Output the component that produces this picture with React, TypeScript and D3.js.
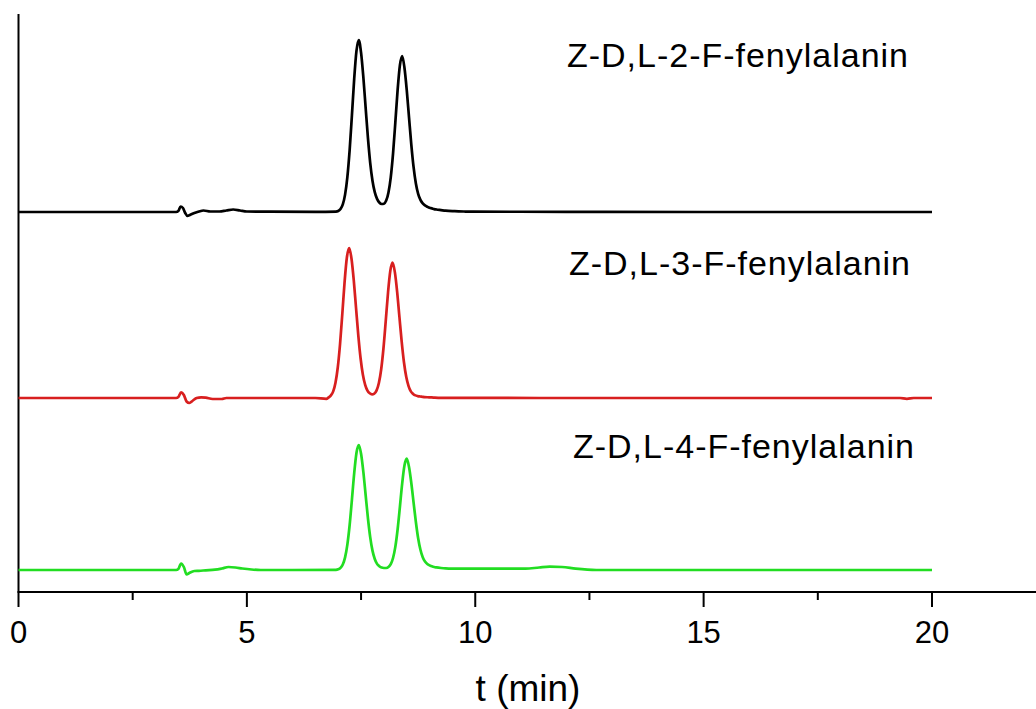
import React from 'react';
import * as d3 from 'd3';

const W = 1036;
const H = 709;

// axis ticks (minutes)
const majorTicks = [0, 5, 10, 15, 20];
const minorTicks = [2.5, 7.5, 12.5, 17.5];
const xAxisEnd = 22.28;
const xDomain: [number, number] = [0, 20];
const yDomain: [number, number] = [0, 578];

const seriesNames = ['Z-D,L-2-F-fenylalanin', 'Z-D,L-3-F-fenylalanin', 'Z-D,L-4-F-fenylalanin'];
const seriesOffsets = [380, 194, 22];
const seriesColors = ['#000000', '#d81f1f', '#22dd22'];

// [time (min), signal]
const blackTrace: [number, number][] = [
  [0, 0], [3.45, 0], [3.5, 1], [3.55, 5.5], [3.6, 4], [3.65, -1], [3.7, -4], [3.75, -3], [3.85, -1],
  [3.95, 0.5], [4.05, 1.5], [4.2, 0.5], [4.4, 0.5], [4.55, 1.5], [4.7, 2.5], [4.85, 1.5], [5.0, 0.5],
  [5.5, 0.3], [6.5, 0.2], [6.95, 0.4],
  [7.0, 1.0], [7.05, 2.9], [7.1, 7.6], [7.15, 17.4], [7.2, 34.9], [7.25, 61.9], [7.3, 96.8], [7.35, 133.3],
  [7.4, 161.3], [7.45, 172], [7.5, 159.3], [7.55, 134.8], [7.6, 104.4], [7.65, 74.3], [7.7, 49.2],
  [7.75, 31.3], [7.8, 19.8], [7.85, 13.1], [7.9, 9.5], [7.95, 8.0], [8.0, 8.3], [8.05, 11.4], [8.1, 19.6],
  [8.15, 34.7], [8.2, 58.4], [8.25, 89.4], [8.3, 121.8], [8.35, 146.6], [8.4, 156.0], [8.45, 144.3],
  [8.5, 122.1], [8.55, 94.7], [8.6, 67.4], [8.65, 44.8], [8.7, 28.6], [8.75, 18.2], [8.8, 12.1],
  [8.85, 8.6], [8.9, 6.6], [8.95, 5.3], [9.0, 4.2], [9.05, 3.6], [9.1, 2.9], [9.15, 2.5], [9.25, 1.9],
  [9.35, 1.3], [9.55, 0.8], [9.75, 0.5], [9.95, 0.3], [12, 0.2], [15, 0], [20, 0],
];

const redTrace: [number, number][] = [
  [0, 0], [3.45, 0], [3.5, 1], [3.56, 5.7], [3.62, 3], [3.68, -3.5], [3.74, -5], [3.82, -2.5], [3.9, 0],
  [4.0, 0.7], [4.1, 0.3], [4.25, -1], [4.45, -1], [4.55, 0], [5.0, 0], [6.5, 0], [6.74, -0.8],
  [6.79, 0.6], [6.84, 2.6], [6.89, 6.6], [6.94, 15.2], [6.99, 30.5], [7.04, 54.0], [7.09, 84.5],
  [7.14, 116.3], [7.19, 140.7], [7.24, 150], [7.29, 139.5], [7.34, 117.8], [7.39, 90.0], [7.44, 62.4],
  [7.49, 39.5], [7.54, 23.3], [7.59, 13.2], [7.64, 7.4], [7.69, 4.7], [7.74, 3.7], [7.79, 4.4],
  [7.84, 7.6], [7.89, 15.0], [7.94, 28.5], [7.99, 49.5], [8.04, 76.8], [8.09, 105.2], [8.14, 127.1],
  [8.19, 135.5], [8.24, 125.9], [8.29, 106.2], [8.34, 81.0], [8.39, 56.2], [8.44, 35.5], [8.49, 20.9],
  [8.54, 11.9], [8.59, 6.6], [8.64, 4.1], [8.69, 2.6], [8.74, 1.9], [8.79, 1.5], [8.84, 1.2],
  [8.89, 0.9], [8.99, 0.7], [9.09, 0.4], [9.24, 0.1], [12, 0], [19.3, 0], [19.45, -0.8], [19.6, 0], [20, 0],
];

const greenTrace: [number, number][] = [
  [0, 0], [3.45, 0], [3.5, 1], [3.56, 6.5], [3.62, 3], [3.68, -4.5], [3.74, -3], [3.85, -1],
  [3.95, -0.8], [4.1, -0.3], [4.3, 0.3], [4.45, 1.5], [4.6, 3], [4.75, 2.5], [4.9, 1.5], [5.1, 0.5],
  [5.3, 0], [6.0, 0], [6.95, 0.2],
  [7.0, 0.7], [7.05, 2.1], [7.1, 5.5], [7.15, 12.6], [7.2, 25.4], [7.25, 45.0], [7.3, 70.4], [7.35, 96.9],
  [7.4, 117.3], [7.45, 125], [7.5, 116.3], [7.55, 98.1], [7.6, 75.0], [7.65, 52.0], [7.7, 32.9],
  [7.75, 19.4], [7.8, 11.0], [7.85, 6.1], [7.9, 3.8], [7.95, 2.4], [8.0, 2.0], [8.05, 2.0], [8.1, 3.0],
  [8.15, 5.8], [8.2, 12.0], [8.25, 23.1], [8.3, 40.5], [8.35, 62.9], [8.4, 86.4], [8.45, 104.4],
  [8.5, 111.3], [8.55, 103.0], [8.6, 87.0], [8.65, 67.4], [8.7, 48.0], [8.75, 31.7], [8.8, 20.2],
  [8.85, 12.8], [8.9, 8.4], [8.95, 6.0], [9.0, 4.6], [9.05, 3.7], [9.1, 3.0], [9.15, 2.6], [9.25, 2.0],
  [9.35, 1.6], [9.5, 1.4], [10.25, 1.3], [11.1, 1.3], [11.4, 2.5], [11.63, 3.3], [11.9, 3.0],
  [12.2, 1.3], [12.65, 0], [20, 0],
];

const traces = [blackTrace, redTrace, greenTrace];

const FONT = '"Liberation Sans", Arial, sans-serif';

export default function App() {
  const x = d3.scaleLinear().domain(xDomain).range([18.5, 932]);
  const y = d3.scaleLinear().domain(yDomain).range([592, 14]);

  const lines = traces.map((tr, i) =>
    d3
      .line<[number, number]>()
      .x((d) => x(d[0]))
      .y((d) => y(d[1] + seriesOffsets[i]))
      .curve(d3.curveMonotoneX)(tr) as string
  );

  const labelPos = [
    { x: 567, y: 67 },
    { x: 569, y: 275 },
    { x: 573, y: 458 },
  ];

  return (
    <div style={{ position: 'absolute', left: 0, top: 0 }}>
      <svg width={W} height={H} style={{ display: 'block', background: '#fff' }}>
        {/* y axis */}
        <line x1={x(0)} x2={x(0)} y1={y(yDomain[1])} y2={y(0)} stroke="#000" strokeWidth={2} />
        {/* x axis */}
        <line x1={x(0) - 1} x2={x(xAxisEnd)} y1={y(0)} y2={y(0)} stroke="#000" strokeWidth={2} />
        {majorTicks.map((t) => (
          <g key={'M' + t}>
            <line x1={x(t)} x2={x(t)} y1={y(0)} y2={y(0) + 15} stroke="#000" strokeWidth={2} />
            <text
              x={x(t)}
              y={643}
              textAnchor="middle"
              fontFamily={FONT}
              fontSize={31}
              fill="#000"
            >
              {t}
            </text>
          </g>
        ))}
        {minorTicks.map((t) => (
          <line key={'m' + t} x1={x(t)} x2={x(t)} y1={y(0)} y2={y(0) + 8} stroke="#000" strokeWidth={2} />
        ))}
        <text x={528} y={701} textAnchor="middle" fontFamily={FONT} fontSize={37} fill="#000">
          t (min)
        </text>

        {lines.map((d, i) => (
          <path key={i} d={d} fill="none" stroke={seriesColors[i]} strokeWidth={2.7} strokeLinejoin="round" />
        ))}

        {seriesNames.map((n, i) => (
          <text
            key={n}
            x={labelPos[i].x}
            y={labelPos[i].y}
            fontFamily={FONT}
            fontSize={34}
            textLength={341}
            lengthAdjust="spacing"
            fill="#000"
          >
            {n}
          </text>
        ))}
      </svg>
    </div>
  );
}
